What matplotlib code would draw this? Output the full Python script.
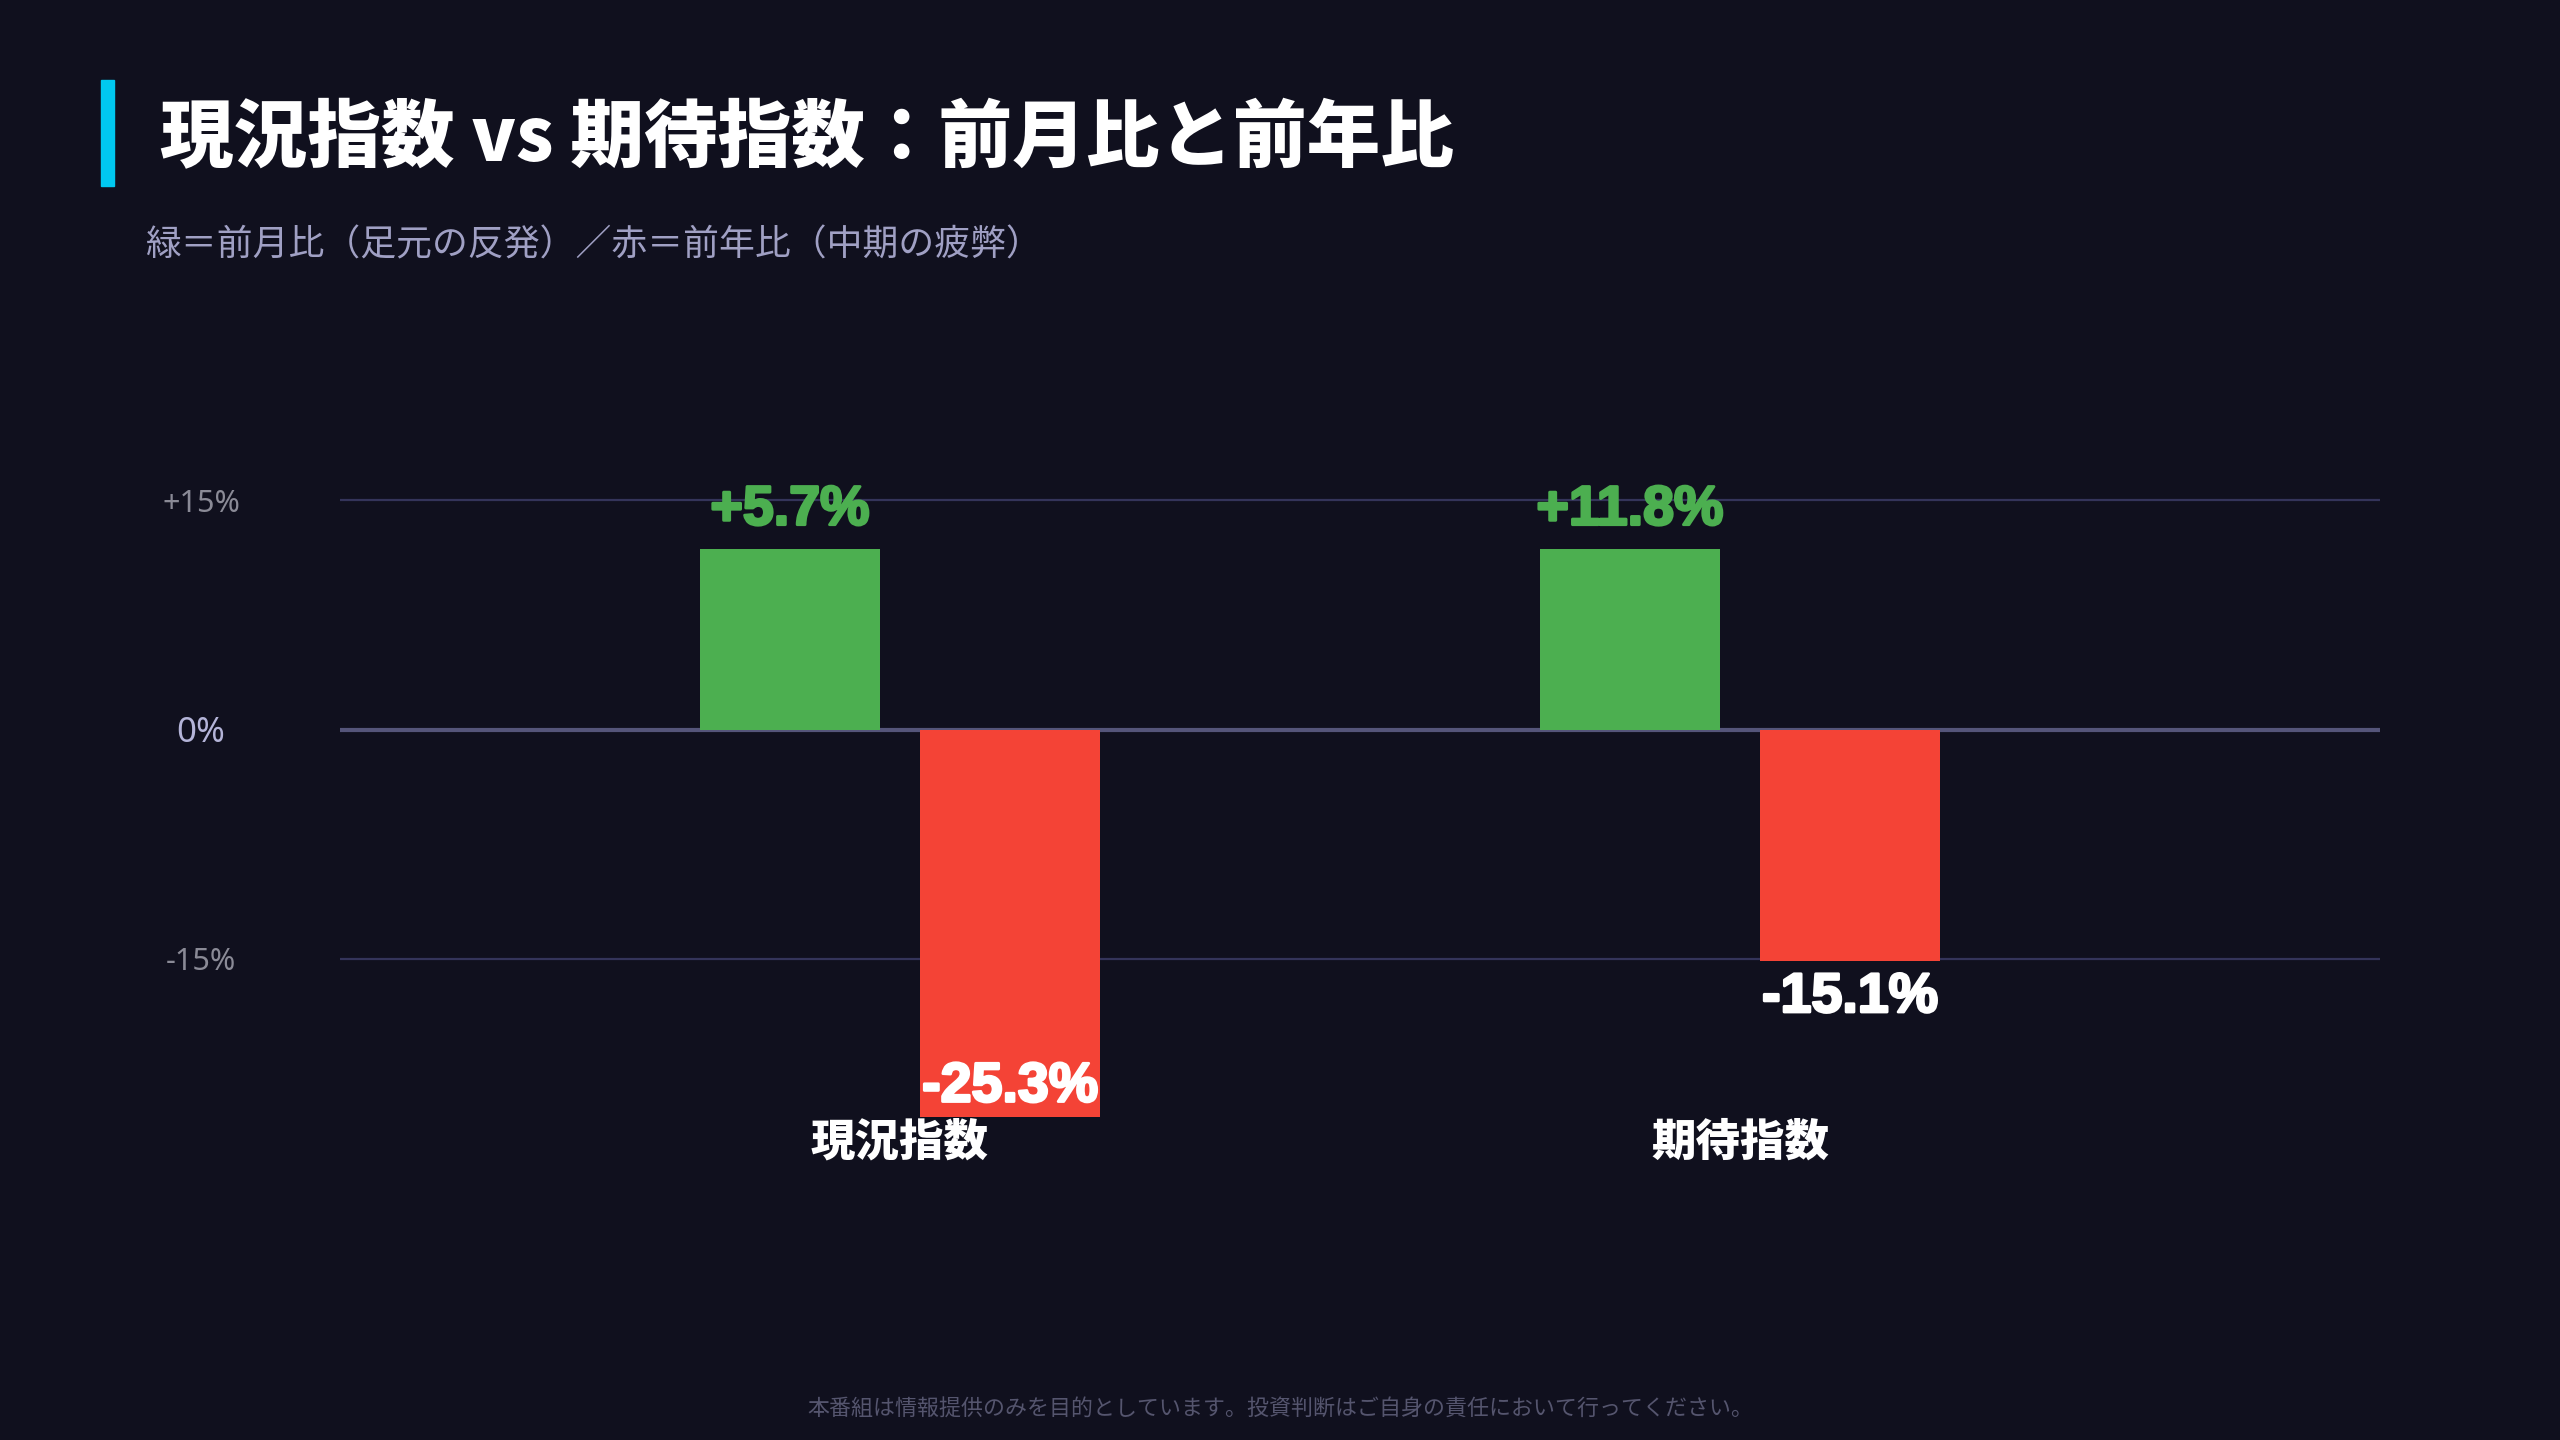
import matplotlib
matplotlib.use("Agg")
import matplotlib.pyplot as plt
import matplotlib.patheffects as pe
import numpy as np

plt.rcParams["font.family"] = ["Noto Sans CJK JP", "DejaVu Sans"]

# data
categories = ["現況指数", "期待指数"]
mom_heights = [11.8, 11.8]          # green bars as drawn
mom_labels = ["+5.7%", "+11.8%"]
yoy_values = [-25.3, -15.1]         # red bars
yoy_labels = ["-25.3%", "-15.1%"]
y_ticks = [-15, 0, 15]
y_tick_labels = ["-15%", "0%", "+15%"]

TITLE = "現況指数 vs 期待指数：前月比と前年比"
SUBTITLE = "緑＝前月比（足元の反発）／赤＝前年比（中期の疲弊）"
FOOTER = "本番組は情報提供のみを目的としています。投資判断はご自身の責任において行ってください。"

# colours
C_BG = "#10101e"
C_GREEN = "#4caf50"
C_RED = "#f44336"
C_ACCENT = "#00c8f0"
C_SUB = "#a0a0c4"
C_GRID = "#34345a"
C_ZERO = "#55557a"
C_TICK = "#8a8a96"
C_TICK0 = "#b4b4d8"
C_FOOT = "#55556e"

W, H = 2560, 1440
fig = plt.figure(figsize=(W / 100, H / 100), dpi=100, facecolor=C_BG)

# header
fig.patches.append(plt.Rectangle((101 / W, 1 - 186 / H), 13 / W, 106 / H,
                                 transform=fig.transFigure, color=C_ACCENT))
fig.text(160 / W, 1 - 139 / H, TITLE, ha="left", va="center",
         fontsize=53, fontweight="black", color="white")
fig.text(145 / W, 1 - 245 / H, SUBTITLE, ha="left", va="center",
         fontsize=25.8, color=C_SUB)
fig.text(0.5, 1 - 1410 / H, FOOTER, ha="center", va="center",
         fontsize=15.8, color=C_FOOT)

# chart axes: 0% at y=729.5px, 15.3 px per percent
YMIN, YMAX = -25.5, 18
top_px = 729.5 - YMAX * 15.3
bot_px = 729.5 - YMIN * 15.3
ax = fig.add_axes([340 / W, 1 - bot_px / H, 2040 / W, (bot_px - top_px) / H])
ax.set_facecolor(C_BG)
ax.set_xlim(-0.6667, 1.7619)
ax.set_ylim(YMIN, YMAX)
for s in ax.spines.values():
    s.set_visible(False)

for t in y_ticks:
    if t == 0:
        ax.axhline(t, color=C_ZERO, lw=3, zorder=1)
    else:
        ax.axhline(t, color=C_GRID, lw=1.6, zorder=1)

x = np.arange(len(categories))
bw = 0.214
off = 0.131
ax.bar(x - off, mom_heights, width=bw, color=C_GREEN, zorder=2)
ax.bar(x + off, yoy_values, width=bw, color=C_RED, zorder=2)

lab_font = dict(family=["Liberation Sans", "DejaVu Sans"], fontweight="bold", fontsize=40)
for i in range(len(categories)):
    ax.text(x[i] - off, mom_heights[i] + 2.5, mom_labels[i], ha="center", va="center",
            color=C_GREEN, zorder=3,
            path_effects=[pe.withStroke(linewidth=2, foreground=C_GREEN)], **lab_font)
    # red labels sit below the bar end, but stay inside the plot area
    ly = max(yoy_values[i] - 2.45, YMIN + 2.1)
    ax.text(x[i] + off, ly, yoy_labels[i], ha="center", va="center",
            color="white", zorder=3,
            path_effects=[pe.withStroke(linewidth=2, foreground="white")], **lab_font)

ax.set_xticks(x)
ax.set_xticklabels(categories, fontsize=32, fontweight="black", color="white")
ax.tick_params(axis="x", length=0, pad=0)

ax.set_yticks(y_ticks)
ax.set_yticklabels(y_tick_labels, family=["Noto Sans", "DejaVu Sans"])
ax.tick_params(axis="y", length=0, pad=100)
for lbl, t in zip(ax.get_yticklabels(), y_ticks):
    lbl.set_horizontalalignment("center")
    lbl.set_color(C_TICK0 if t == 0 else C_TICK)
    lbl.set_fontsize(25 if t == 0 else 22)

fig.savefig("out.png", dpi=100, facecolor=C_BG)
